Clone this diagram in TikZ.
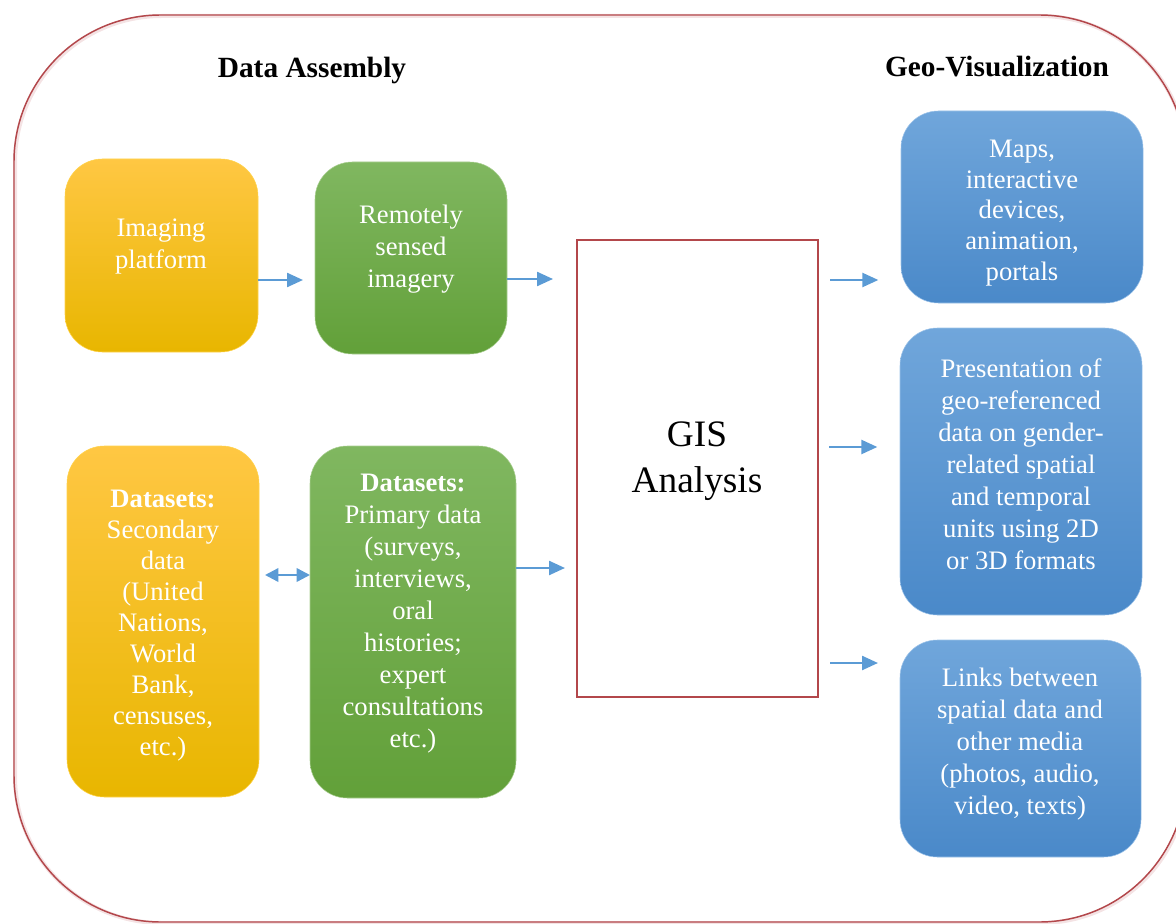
\documentclass[tikz,border=0pt]{standalone}
\usepackage{fontspec}
\setmainfont{Liberation Serif}
\usetikzlibrary{arrows.meta,calc}
\definecolor{framered}{HTML}{B3474B}
\definecolor{arrowblue}{HTML}{5B9BD5}
\definecolor{orT}{HTML}{FFC743}
\definecolor{orM}{HTML}{FFC000}
\definecolor{orB}{HTML}{E8B600}
\definecolor{grT}{HTML}{80B760}
\definecolor{grM}{HTML}{70AD47}
\definecolor{grB}{HTML}{62A039}
\definecolor{blT}{HTML}{70A6DB}
\definecolor{blM}{HTML}{5B9BDA}
\definecolor{blB}{HTML}{4A89C9}
\tikzset{
  boxbase/.style={rounded corners=28pt, inner sep=0pt, outer sep=0pt, line width=0.4pt},
  obox/.style={boxbase, top color=orT, middle color=orM, bottom color=orB, draw=orM!70!white},
  gbox/.style={boxbase, top color=grT, middle color=grM, bottom color=grB, draw=grM!60!white},
  bbox/.style={boxbase, top color=blT, middle color=blM, bottom color=blB, draw=blM!60!white},
  txt/.style={text=white, align=center, font=\fontsize{20}{24}\selectfont, inner sep=0pt},
  head/.style={font=\fontsize{22}{26}\selectfont\bfseries, anchor=base, inner sep=0pt},
  arr/.style={draw=arrowblue, line width=1.8pt, -{Triangle[length=12pt,width=10.5pt]}},
  darr/.style={draw=arrowblue, line width=1.8pt, {Triangle[length=10pt,width=10pt]}-{Triangle[length=10pt,width=10pt]}},
}
\begin{document}
\begin{tikzpicture}[x=0.75pt,y=-0.75pt]
\useasboundingbox (0,0) rectangle (1176,923);
\begin{scope}
\clip (0,0) rectangle (1176,923);
\draw[framered!15, line width=3pt, rounded corners=110pt] (15,16) rectangle (1187,923);
\draw[framered, line width=1.1pt, rounded corners=110pt] (14,15) rectangle (1186,922);
\end{scope}

\node[head] (h1) at (312,78) {Data Assembly};
\node[head] (h2) at (997,77) {Geo-Visualization};

\node[obox, minimum width=144.75pt, minimum height=144.75pt] (b1) at (161.5,255.5) {};
\node[gbox, minimum width=144pt, minimum height=144pt] (b2) at (411,258) {};
\node[obox, minimum width=144pt, minimum height=263.25pt] (b3) at (163,621.5) {};
\node[gbox, minimum width=154.5pt, minimum height=264pt] (b4) at (413,622) {};
\node[draw=framered, line width=1.5pt, fill=white, minimum width=180.75pt, minimum height=342.75pt, inner sep=0pt, outer sep=0pt] (gis) at (697.5,468.5) {};
\node[bbox, minimum width=181.5pt, minimum height=144pt] (v1) at (1022,207) {};
\node[bbox, minimum width=181.5pt, minimum height=215.25pt] (v2) at (1021,471.5) {};
\node[bbox, minimum width=180.75pt, minimum height=162.75pt] (v3) at (1020.5,748.5) {};

\node[txt] (t1) at (161,247) {Imaging\\platform};
\node[txt] (t2) at (411,249.5) {Remotely\\sensed\\imagery};
\node[txt, font=\fontsize{20}{23.25}\selectfont] (t3) at (163,626) {\textbf{Datasets:}\\Secondary\\data\\(United\\Nations,\\World\\Bank,\\censuses,\\etc.)};
\node[txt] (t4) at (413,614) {\textbf{Datasets:}\\Primary data\\(surveys,\\interviews,\\oral\\histories;\\expert\\consultations\\etc.)};
\node[align=center, font=\fontsize{28}{35}\selectfont, inner sep=0pt] (tg) at (697,461) {GIS\\Analysis};
\node[txt, font=\fontsize{20}{23}\selectfont] (t5) at (1022,213) {Maps,\\interactive\\devices,\\animation,\\portals};
\node[txt] (t6) at (1021,464.5) {Presentation of\\geo-referenced\\data on gender-\\related spatial\\and temporal\\units using 2D\\or 3D formats};
\node[txt] (t7) at (1020,744.5) {Links between\\spatial data and\\other media\\(photos, audio,\\video, texts)};

\draw[arr, shorten >=9pt] (b1.east |- 0,280) -- (b2.west |- 0,280);
\draw[arr, shorten >=18pt] (b2.east |- 0,279) -- (gis.west |- 0,279);
\draw[darr, shorten <=4.5pt] (b3.east |- 0,575) -- (b4.west |- 0,575);
\draw[arr, shorten >=9pt] (b4.east |- 0,568) -- (gis.west |- 0,568);
\draw[arr, shorten <=9pt, shorten >=17pt] (gis.east |- 0,280) -- (v1.west |- 0,280);
\draw[arr, shorten <=8.25pt, shorten >=17pt] (gis.east |- 0,447) -- (v2.west |- 0,447);
\draw[arr, shorten <=9pt, shorten >=16.5pt] (gis.east |- 0,663) -- (v3.west |- 0,663);
\end{tikzpicture}
\end{document}
